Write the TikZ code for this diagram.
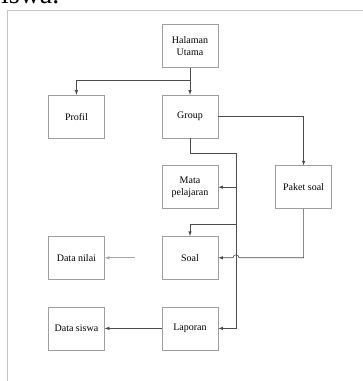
\documentclass[tikz,border=0pt]{standalone}
\usepackage{fontspec}
\setmainfont{Liberation Serif}
\usepackage{tikz}
\usetikzlibrary{shapes,arrows,positioning,calc}

\begin{document}
\begin{tikzpicture}[
    x=1pt, y=1pt,
    node distance=27pt and 57pt,
    menu/.style={rectangle, draw=gray!75, line width=0.6pt, minimum width=56pt, minimum height=43pt, align=center, inner sep=1pt, font=\fontsize{10}{12}\selectfont},
    link/.style={draw=black!70, line width=0.6pt},
    arrow/.style={link, ->, >=latex},
    faint/.style={draw=black!35}
]
    \useasboundingbox (0,0) rectangle (363,381);
    \begin{scope}
        \clip (0,0) rectangle (363,381);
        \node[anchor=base west, inner sep=0pt, font=\fontsize{28}{32}\selectfont] (caption) at (-10,377) {siswa.};
    \end{scope}
    \draw[gray!45, line width=0.8pt] (363,371) -- (7,371) -- (7,0);

    \node[menu] (utama) at (190,335) {Halaman\\Utama};
    \node[menu, below=of utama] (group) {Group};
    \node[menu, left=of group] (profil) {Profil};
    \node[menu, below=of group] (mata) {Mata\\pelajaran};
    \node[menu, right=of mata] (paket) {Paket soal};
    \node[menu, below=of mata] (soal) {Soal};
    \node[menu, left=of soal] (nilai) {Data nilai};
    \node[menu, below=of soal] (laporan) {Laporan};
    \node[menu, left=of laporan] (siswa) {Data siswa};

    \coordinate (busTop) at ($(group.south)+(46,-15)$);
    \coordinate (busSoal) at ($(busTop)+(0,-71)$);
    \coordinate (nilaiFrom) at ($(soal.west)+(-27,0)$);

    \draw[arrow] (utama.south) -- ++(0,-13) -| (profil.north);
    \draw[arrow] (utama) -- (group);
    \draw[arrow] (group.east) -| (paket.north);
    \draw[arrow] (group.south) |- (busTop) |- (laporan.east);
    \draw[arrow] (busTop |- mata.east) -- (mata.east);
    \draw[arrow] (busSoal) -| (soal.north);
    \draw[arrow] (paket.south) |- ($(busTop |- soal.east)+(3,0)$) arc (0:180:3) -- (soal.east);
    \draw[arrow, faint] (nilaiFrom) -- (nilai.east);
    \draw[arrow] (laporan.west) -- (siswa.east);
\end{tikzpicture}
\end{document}
